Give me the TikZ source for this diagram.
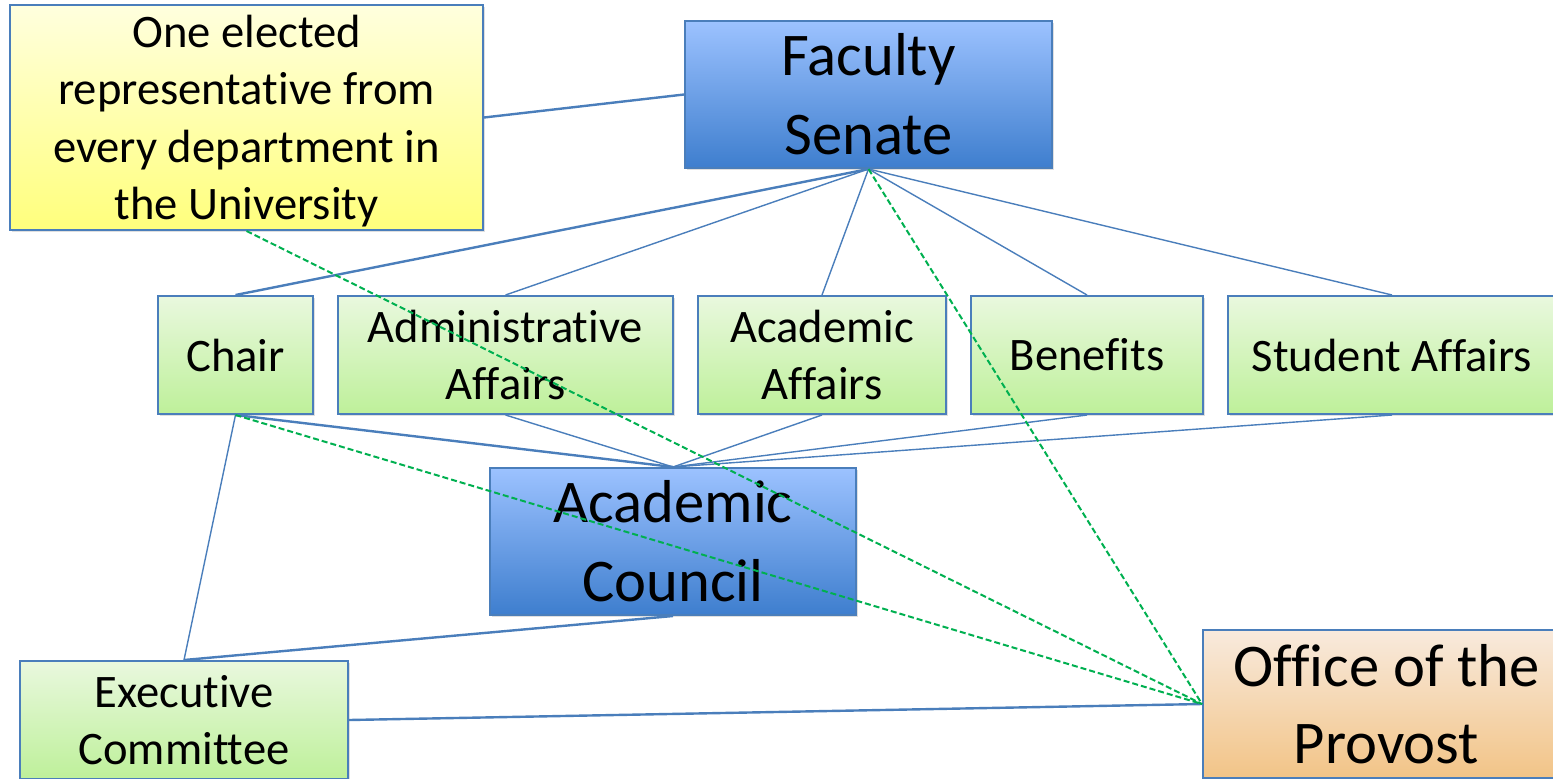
\documentclass[tikz,border=0pt]{standalone}
\usepackage{fontspec}
\setmainfont{Carlito}[Ligatures={NoCommon,NoRare,NoContextual},Contextuals=NoAlternate]
\usepackage{tikz}
\usetikzlibrary{shadows}

\newcommand{\tisep}{t\kern0pt i}

\definecolor{edgeblue}{HTML}{4A7EBB}
\definecolor{dashgreen}{HTML}{00B050}
\definecolor{blueTop}{HTML}{9CC2FF}
\definecolor{blueBot}{HTML}{3E7ECE}
\definecolor{greenTop}{HTML}{E9F8DE}
\definecolor{greenBot}{HTML}{BEF09A}
\definecolor{yellowTop}{HTML}{FFFFDE}
\definecolor{yellowBot}{HTML}{FFFF7C}
\definecolor{orangeTop}{HTML}{F8EADD}
\definecolor{orangeBot}{HTML}{F2C487}

\tikzset{
  box/.style={draw=edgeblue, line width=1pt, inner sep=0pt, align=center,
    drop shadow={opacity=0.25, shadow xshift=1.2pt, shadow yshift=-1.2pt}},
  bodybox/.style={box, top color=blueTop, bottom color=blueBot,
    minimum height=73.5pt, font=\fontsize{30.3}{39.5}\selectfont},
  subbox/.style={box, top color=greenTop, bottom color=greenBot,
    minimum height=59pt, font=\fontsize{23.3}{28.5}\selectfont},
  notebox/.style={box, top color=yellowTop, bottom color=yellowBot,
    font=\fontsize{23.3}{28.7}\selectfont},
  officebox/.style={box, top color=orangeTop, bottom color=orangeBot,
    minimum height=74pt, font=\fontsize{30.3}{38.5}\selectfont},
  link/.style={draw=edgeblue, line width=0.7pt},
  thicklink/.style={draw=edgeblue, line width=1.2pt},
  tie/.style={draw=dashgreen, line width=1pt, dash pattern=on 3pt off 1.5pt}
}

\begin{document}
\begin{tikzpicture}[x=0.5pt,y=-0.5pt]
            \useasboundingbox (0,0) rectangle (1553,778);
            \clip (0,0) rectangle (1553,778);

            % boxes
            \node[notebox, minimum width=236.5pt, minimum height=112.5pt] (rep) at (246.5,117.5)
                {\parbox{230pt}{\centering\vspace*{3.5pt}One elected\\representa\tisep ve from\\every department in\\the University}};
            \node[bodybox, minimum width=183.5pt] (senate) at (868.5,94.5) {Faculty\\Senate};

            \node[subbox, minimum width=77.5pt] (chair) at (235.5,355) {Chair};
            \node[subbox, minimum width=167.5pt] (admin) at (505.5,355) {Administra\tisep ve\\Affairs};
            \node[subbox, minimum width=124pt] (acad) at (822,355) {Academic\\Affairs};
            \node[subbox, minimum width=116pt] (benefits) at (1087,355) {Benefits};
            \node[subbox, minimum width=164pt] (student) at (1392,355) {Student Affairs};

            \node[bodybox, minimum width=183pt] (council) at (673,541.5) {Academic\\Council};
            \node[subbox, minimum width=164pt] (exec) at (184,720) {Execu\tisep ve\\Committee};
            \node[officebox, minimum width=183.5pt] (provost) at (1386.5,704) {Office of the\\Provost};

            % solid connectors
            \draw[thicklink] (rep.east) -- (senate.west);
            \draw[thicklink] (senate.south) -- (chair.north);
            \foreach \n in {admin,acad,benefits,student}
                \draw[link] (senate.south) -- (\n.north);
            \draw[thicklink] (chair.south) -- (council.north);
            \foreach \n in {admin,acad,benefits,student}
                \draw[link] (\n.south) -- (council.north);
            \draw[link] (chair.south) -- (exec.north);
            \draw[thicklink] (council.south) -- (exec.north);
            \draw[thicklink] (exec.east) -- (provost.west);

            % dashed ties to the provost
            \draw[tie] (rep.south) -- (provost.west);
            \draw[tie] (senate.south) -- (provost.west);
            \draw[tie] (chair.south) -- (provost.west);

        \end{tikzpicture}
\end{document}
